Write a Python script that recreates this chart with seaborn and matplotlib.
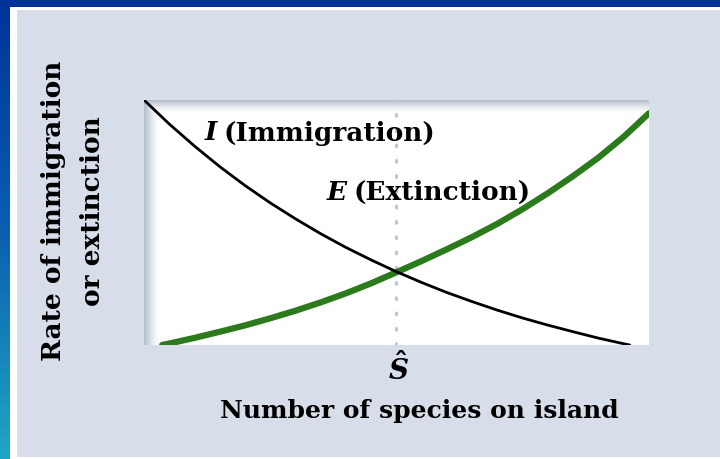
import numpy as np
import pandas as pd
import matplotlib
matplotlib.use("Agg")
import matplotlib.pyplot as plt
import seaborn as sns

sns.set_theme(style="white")
plt.rcParams["font.family"] = ["DejaVu Serif", "Liberation Serif"]
plt.rcParams["text.color"] = "black"
plt.rcParams["mathtext.fontset"] = "custom"
plt.rcParams["mathtext.it"] = "DejaVu Serif:italic:bold"
plt.rcParams["mathtext.rm"] = "DejaVu Serif:bold"

# Immigration rate vs number of species
imm_species = [0, 5, 10, 15, 20, 25, 30, 35, 40, 45, 50, 55, 60, 65, 70, 75, 80, 85, 90, 95, 96.2]
imm_rate = [100, 90.2, 81.2, 72.8, 65.1, 58.0, 51.5, 45.4, 39.8, 34.7, 29.9, 25.5, 21.4, 17.7,
            14.2, 11.0, 8.1, 5.4, 2.8, 0.5, 0]

# Extinction rate vs number of species
ext_species = [3.6, 5, 10, 15, 20, 25, 30, 35, 40, 45, 50, 55, 60, 65, 70, 75, 80, 85, 90, 95, 100]
ext_rate = [0, 0.6, 2.9, 5.4, 8.0, 10.9, 14.0, 17.4, 21.1, 25.2, 29.7, 34.3, 39.1, 44.1,
            49.5, 55.5, 62.0, 69.0, 76.5, 85.0, 94.6]

s_hat = 50  # equilibrium number of species

NAVY = "#003399"
PANEL = "#d8dee9"
GREEN = "#2b7a1c"

W, H = 720, 459
fig = plt.figure(figsize=(W / 100, H / 100), dpi=100)
fig.patch.set_facecolor(NAVY)


def px(x0, y0, x1, y1):
    """Figure-fraction rectangle from pixel edges (origin top-left)."""
    return [x0 / W, 1 - y1 / H, (x1 - x0) / W, (y1 - y0) / H]


# white frame and pale panel
fig.patches.append(matplotlib.patches.Rectangle((10 / W, 0), 1, 1 - 7 / H, transform=fig.transFigure,
                                                facecolor="white", edgecolor="none", zorder=-20))
fig.patches.append(matplotlib.patches.Rectangle((17 / W, 2 / H), 1, 1 - 12 / H, transform=fig.transFigure,
                                                facecolor=PANEL, edgecolor="none", zorder=-10))

# left gradient strip
strip = fig.add_axes(px(0, 0, 10, H))
grad = np.linspace(0, 1, 256)[:, None]
cmap = matplotlib.colors.LinearSegmentedColormap.from_list("strip", [NAVY, "#0a5fb0", "#20a6c4"])
strip.imshow(grad, aspect="auto", cmap=cmap, extent=[0, 1, 1, 0])
strip.axis("off")

ax = fig.add_axes(px(144, 100, 649, 345))
ax.set_xlim(0, 100)
ax.set_ylim(0, 100)

# white plot area with shaded left and top edges
nx, ny = 505, 245
xx = np.arange(nx)[None, :]
yy = np.arange(ny)[:, None]
shade = np.maximum(np.clip(1 - xx / 16, 0, 1) ** 1.6, np.clip(1 - yy / 13, 0, 1) ** 1.6)
edge = np.array([0.70, 0.75, 0.80])
img = np.ones((ny, nx, 3)) * (1 - shade[..., None]) + edge * shade[..., None]
ax.imshow(img, extent=[0, 100, 0, 100], aspect="auto", zorder=0, origin="upper")

ax.axvline(s_hat, color="#b8c6da", lw=2.2, ls=(0, (0.6, 4.4)), dash_capstyle="round", zorder=1)

imm = pd.DataFrame({"species": imm_species, "rate": imm_rate})
ext = pd.DataFrame({"species": ext_species, "rate": ext_rate})
sns.lineplot(data=imm, x="species", y="rate", ax=ax, color="black", lw=2.0, zorder=3, sort=False,
             solid_joinstyle="round")
sns.lineplot(data=ext, x="species", y="rate", ax=ax, color=GREEN, lw=4.5, zorder=2, sort=False,
             solid_joinstyle="round")

ax.set_xlim(0, 100)
ax.set_ylim(0, 100)
ax.set_xticks([])
ax.set_yticks([])
ax.set_xlabel("")
ax.set_ylabel("")
for sp in ax.spines.values():
    sp.set_visible(False)


def ft(x, y, s, **kw):
    fig.text(x / W, 1 - y / H, s, **kw)


ft(205, 133, "I", fontsize=19, fontweight="bold", fontstyle="italic", va="center", ha="left")
ft(223, 133, "(Immigration)", fontsize=19, fontweight="bold", va="center", ha="left")
ft(327, 192, "E", fontsize=19, fontweight="bold", fontstyle="italic", va="center", ha="left")
ft(354, 192, "(Extinction)", fontsize=19, fontweight="bold", va="center", ha="left")

ft(398, 369, r"$\hat{S}$", fontsize=20, va="center", ha="center")

ft(419, 411, "Number of species on island", fontsize=18, fontweight="bold", va="center", ha="center")
ft(53, 211, "Rate of immigration", fontsize=19, fontweight="bold", va="center", ha="center", rotation=90)
ft(92, 211, "or extinction", fontsize=19, fontweight="bold", va="center", ha="center", rotation=90)

fig.savefig("out.png", dpi=100, facecolor=fig.get_facecolor())
